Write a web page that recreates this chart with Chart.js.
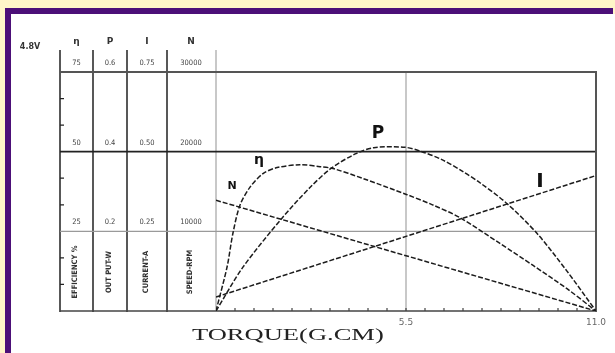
<!DOCTYPE html>
<html>
<head>
<meta charset="utf-8">
<script src="https://cdn.jsdelivr.net/npm/chart.js@4/dist/chart.umd.min.js"></script>
<style>
  html, body { margin: 0; padding: 0; background: #fff6c8; }
  canvas { display: block; }
</style>
</head>
<body>
<canvas id="motor" width="615" height="353"></canvas>
<script>
// torque in G.CM
const torqueEff = [0, 0.03, 0.32, 0.49, 0.69, 0.98, 1.36, 1.77, 2.43, 3.01, 3.39, 4.25, 5.53, 6.25, 7.06, 8.22, 9.18, 10.16, 11];
const efficiency = [0, 1.3, 13.8, 24.4, 33.1, 38.8, 43.1, 45.0, 45.9, 45.3, 44.7, 41.6, 36.5, 33.4, 29.3, 21.2, 14.3, 7.0, 0];

const torqueOut = [0, 0.78, 1.91, 2.72, 3.33, 4.05, 4.57, 5.47, 5.96, 6.54, 7.15, 7.64, 8.42, 9.29, 10.16, 11];
const output = [0, 0.11, 0.233, 0.31, 0.358, 0.395, 0.41, 0.411, 0.400, 0.380, 0.350, 0.322, 0.27, 0.195, 0.100, 0];

const torqueCur = [0, 4.66, 11];
const current = [0.044, 0.205, 0.425];

const torqueSpd = [0, 4.66, 11];
const speed = [13900, 8000, 0];

const effTicks = [25, 50, 75];
const outTicks = [0.2, 0.4, 0.6];
const curTicks = [0.25, 0.5, 0.75];
const spdTicks = [10000, 20000, 30000];
const xLabels = [5.5, 11.0];

const toPoints = (xs, ys) => xs.map((x, i) => ({ x: x, y: ys[i] }));

const lineStyle = {
  borderColor: '#1c1c1c',
  borderWidth: 1.5,
  borderDash: [5, 2],
  pointRadius: 0,
  fill: false
};

const sheet = {
  id: 'sheet',
  beforeDraw(chart) {
    const ctx = chart.ctx;
    const { x, yEff, yOut, yCur, ySpd } = chart.scales;
    const area = chart.chartArea;
    ctx.save();
    // page frame
    ctx.fillStyle = '#fff6c8';
    ctx.fillRect(0, 0, 615, 353);
    ctx.fillStyle = '#4c0f78';
    ctx.fillRect(5, 8, 608, 6);
    ctx.fillRect(5, 8, 6, 345);
    ctx.fillStyle = '#ffffff';
    ctx.fillRect(11, 14, 604, 339);

    const cols = [60, 93, 127, 167];
    const centers = [76.5, 110, 147, 191];
    const top = yEff.getPixelForValue(75);
    const bottom = yEff.getPixelForValue(0);

    // light vertical lines
    ctx.strokeStyle = '#c8c8c8';
    ctx.lineWidth = 2;
    ctx.beginPath();
    ctx.moveTo(area.left, 50); ctx.lineTo(area.left, bottom);
    ctx.moveTo(x.getPixelForValue(5.5), top); ctx.lineTo(x.getPixelForValue(5.5), bottom);
    ctx.stroke();

    // table columns
    ctx.strokeStyle = '#222';
    ctx.lineWidth = 1.5;
    ctx.beginPath();
    cols.forEach((c) => { ctx.moveTo(c, 50); ctx.lineTo(c, bottom + 1); });
    ctx.stroke();

    // horizontal lines
    const hLine = (v, color, w) => {
      const py = yEff.getPixelForValue(v);
      ctx.strokeStyle = color;
      ctx.lineWidth = w;
      ctx.beginPath();
      ctx.moveTo(cols[0], py); ctx.lineTo(area.right, py);
      ctx.stroke();
    };
    hLine(75, '#555', 2);
    hLine(50, '#222', 1.6);
    hLine(25, '#9a9a9a', 1.4);
    hLine(0, '#444', 1.6);

    // right frame
    ctx.strokeStyle = '#555';
    ctx.lineWidth = 2;
    ctx.beginPath();
    ctx.moveTo(area.right, top - 1); ctx.lineTo(area.right, bottom + 1);
    ctx.stroke();

    // minor ticks on left edge
    ctx.strokeStyle = '#222';
    ctx.lineWidth = 1.2;
    ctx.beginPath();
    [8.33, 16.67, 33.33, 41.67, 58.33, 66.67].forEach((v) => {
      const py = yEff.getPixelForValue(v);
      ctx.moveTo(cols[0], py); ctx.lineTo(cols[0] + 4, py);
    });
    ctx.stroke();

    // torque ticks
    ctx.strokeStyle = '#444';
    ctx.lineWidth = 1.2;
    ctx.beginPath();
    for (let i = 1; i < 20; i++) {
      const px = x.getPixelForValue(i * 0.55);
      ctx.moveTo(px, bottom); ctx.lineTo(px, bottom - 3);
    }
    ctx.stroke();

    // header
    ctx.fillStyle = '#333';
    ctx.textAlign = 'center';
    ctx.textBaseline = 'middle';
    ctx.font = 'bold 8px "DejaVu Sans"';
    ctx.fillText('4.8V', 30, 47);
    ctx.font = 'bold 9px "DejaVu Sans"';
    ['η', 'P', 'I', 'N'].forEach((t, i) => ctx.fillText(t, centers[i], 42));

    // value rows
    ctx.font = '7.5px "DejaVu Sans Condensed", "DejaVu Sans"';
    ctx.fillStyle = '#444';
    effTicks.forEach((v) => ctx.fillText(String(v), centers[0], yEff.getPixelForValue(v) - 9));
    outTicks.forEach((v) => ctx.fillText(v.toFixed(1), centers[1], yOut.getPixelForValue(v) - 9));
    curTicks.forEach((v) => ctx.fillText(v.toFixed(2), centers[2], yCur.getPixelForValue(v) - 9));
    spdTicks.forEach((v) => ctx.fillText(String(v), centers[3], ySpd.getPixelForValue(v) - 9));

    // rotated unit names
    ctx.font = 'bold 7.5px "DejaVu Sans Condensed", "DejaVu Sans"';
    ctx.fillStyle = '#333';
    ['EFFICIENCY %', 'OUT PUT-W', 'CURRENT-A', 'SPEED-RPM'].forEach((t, i) => {
      ctx.save();
      ctx.translate(centers[i] - 1, 272);
      ctx.rotate(-Math.PI / 2);
      ctx.fillText(t, 0, 0);
      ctx.restore();
    });

    // torque labels
    ctx.font = '9px "DejaVu Sans"';
    ctx.fillStyle = '#666';
    xLabels.forEach((v) => ctx.fillText(v.toFixed(1), x.getPixelForValue(v), bottom + 12));

    ctx.save();
    ctx.translate(192, 340);
    ctx.scale(1.56, 1);
    ctx.textAlign = 'left';
    ctx.textBaseline = 'alphabetic';
    ctx.font = '17px "Liberation Serif"';
    ctx.fillStyle = '#222';
    ctx.fillText('TORQUE(G.CM)', 0, 0);
    ctx.restore();

    ctx.restore();
  },
  afterDatasetsDraw(chart) {
    const ctx = chart.ctx;
    ctx.save();
    ctx.fillStyle = '#111';
    ctx.textAlign = 'center';
    ctx.textBaseline = 'middle';
    ctx.font = 'bold 11px "DejaVu Sans"';
    ctx.fillText('N', 232, 186);
    ctx.font = 'bold 14px "DejaVu Sans"';
    ctx.fillText('η', 259, 160);
    ctx.font = 'bold 17px "DejaVu Sans"';
    ctx.fillText('P', 378, 134);
    ctx.font = 'bold 20px "DejaVu Sans"';
    ctx.fillText('I', 540, 182);
    ctx.restore();
  }
};

new Chart(document.getElementById('motor'), {
  type: 'line',
  data: {
    datasets: [
      { ...lineStyle, label: 'η', data: toPoints(torqueEff, efficiency), yAxisID: 'yEff', tension: 0.3 },
      { ...lineStyle, label: 'P', data: toPoints(torqueOut, output), yAxisID: 'yOut', tension: 0.3 },
      { ...lineStyle, label: 'I', data: toPoints(torqueCur, current), yAxisID: 'yCur', tension: 0 },
      { ...lineStyle, label: 'N', data: toPoints(torqueSpd, speed), yAxisID: 'ySpd', tension: 0 }
    ]
  },
  options: {
    responsive: false,
    animation: false,
    devicePixelRatio: 1,
    layout: { padding: { left: 216, right: 19, top: 72, bottom: 42 } },
    plugins: { legend: { display: false }, tooltip: { enabled: false } },
    scales: {
      x: { type: 'linear', min: 0, max: 11, display: false },
      yEff: { min: 0, max: 75, display: false },
      yOut: { min: 0, max: 0.6, display: false },
      yCur: { min: 0, max: 0.75, display: false },
      ySpd: { min: 0, max: 30000, display: false }
    }
  },
  plugins: [sheet]
});
</script>
</body>
</html>
